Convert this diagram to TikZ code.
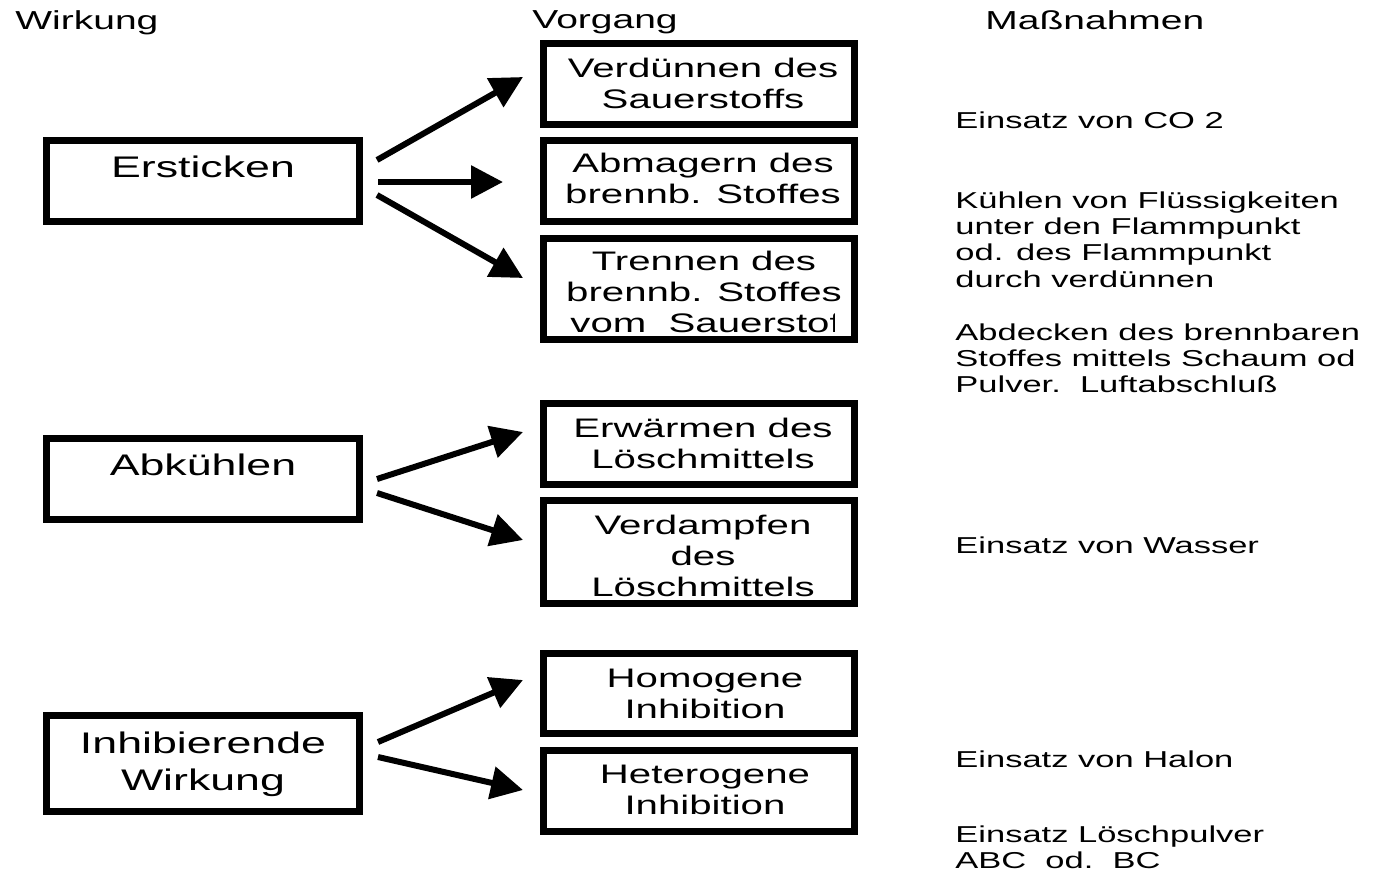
\documentclass[tikz,border=0pt]{standalone}
\usepackage{fontspec}
\setmainfont[FakeStretch=1.5]{Liberation Sans}
\usetikzlibrary{arrows.meta}
\newcommand\mlines[1]{\begin{tabular}[t]{@{}c@{}}#1\end{tabular}}
\newcommand\llines[1]{\begin{tabular}[t]{@{}l@{}}#1\end{tabular}}
\begin{document}
\begin{tikzpicture}[x=0.5pt,y=-0.5pt,
  box/.style={draw,line width=3.5pt,inner sep=0pt,outer sep=0pt},
  arr/.style={line width=3pt,-{Triangle[length=16pt,width=16pt]}},
  head/.style={anchor=base west,inner sep=0pt,font=\fontsize{13}{15}\selectfont},
  ltxt/.style={anchor=base,inner sep=0pt,font=\fontsize{14.9}{18.5}\selectfont},
  btxt/.style={anchor=base,inner sep=0pt,font=\fontsize{13.4}{15.5}\selectfont},
  rtxt/.style={anchor=base west,inner sep=0pt,font=\fontsize{11.5}{13.2}\selectfont},
]
\useasboundingbox[fill=white] (0,0) rectangle (1375,873);

% headers
\node[head] (h1) at (15,29) {Wirkung};
\node[head] (h2) at (532,28) {Vorgang};
\node[head] (h3) at (985,29) {Maßnahmen};

% left boxes
\node[box,minimum width=156.5pt,minimum height=40.5pt] (erst) at (203,181) {};
\node[box,minimum width=156.5pt,minimum height=40.5pt] (abk) at (203,479) {};
\node[box,minimum width=156.5pt,minimum height=48pt] (inhib) at (203,763.5) {};
\node[ltxt] (erstT) at (203,177) {Ersticken};
\node[ltxt] (abkT) at (203,475) {Abkühlen};
\node[ltxt] (inhibT) at (203,753) {\mlines{Inhibierende\\Wirkung}};

% middle boxes
\node[box,minimum width=155.5pt,minimum height=40.5pt] (verd) at (699,84) {};
\node[box,minimum width=155.5pt,minimum height=40.5pt] (abm) at (699,181) {};
\node[box,minimum width=155.5pt,minimum height=50.5pt] (tren) at (699,289) {};
\node[box,minimum width=155.5pt,minimum height=40.5pt] (erw) at (699,444) {};
\node[box,minimum width=155.5pt,minimum height=51.5pt] (vdam) at (699,552) {};
\node[box,minimum width=155.5pt,minimum height=40pt] (homo) at (699,693.5) {};
\node[box,minimum width=155.5pt,minimum height=40.5pt] (hete) at (699,791) {};

\node[btxt] (verdT) at (703,77) {\mlines{Verdünnen des\\Sauerstoffs}};
\node[btxt] (abmT) at (703,172) {\mlines{Abmagern des\\brennb. Stoffes}};
\node[btxt] (trenT) at (704,270) {\mlines{Trennen des\\brennb. Stoffes}};
\begin{scope}
  \clip (560,305) rectangle (834,345);
  \node[btxt,anchor=base west] (trenT3) at (570,332) {vom\ \ Sauerstoff};
\end{scope}
\node[btxt] (erwT) at (703,437) {\mlines{Erwärmen des\\Löschmittels}};
\node[btxt] (vdamT) at (703,534) {\mlines{Verdampfen\\des\\Löschmittels}};
\node[btxt] (homoT) at (705,687) {\mlines{Homogene\\Inhibition}};
\node[btxt] (heteT) at (705,783) {\mlines{Heterogene\\Inhibition}};

% arrows
\coordinate (a1s) at (377,160); \coordinate (a1e) at (523,77);
\coordinate (a2s) at (378,182); \coordinate (a2e) at (503,182);
\coordinate (a3s) at (377,195); \coordinate (a3e) at (523,278);
\coordinate (a4s) at (377,479); \coordinate (a4e) at (523,432);
\coordinate (a5s) at (377,493); \coordinate (a5e) at (523,540);
\coordinate (a6s) at (378,742); \coordinate (a6e) at (523,680);
\coordinate (a7s) at (378,757); \coordinate (a7e) at (523,790);
\draw[arr] (a1s) -- (a1e);
\draw[arr] (a2s) -- (a2e);
\draw[arr] (a3s) -- (a3e);
\draw[arr] (a4s) -- (a4e);
\draw[arr] (a5s) -- (a5e);
\draw[arr] (a6s) -- (a6e);
\draw[arr] (a7s) -- (a7e);

% right texts
\node[rtxt] (m1) at (955,128) {Einsatz von CO 2};
\node[rtxt] (m2) at (955,208) {\llines{Kühlen von Flüssigkeiten\\unter den Flammpunkt\\od. des Flammpunkt\\durch verdünnen}};
\node[rtxt] (m3) at (955,340) {\llines{Abdecken des brennbaren\\Stoffes mittels Schaum od\\Pulver.\ \ Luftabschluß}};
\node[rtxt] (m4) at (955,553) {Einsatz von Wasser};
\node[rtxt] (m5) at (955,767) {Einsatz von Halon};
\node[rtxt] (m6) at (955,842) {\llines{Einsatz Löschpulver\\ABC\ \ od.\ \ BC}};
\end{tikzpicture}
\end{document}
